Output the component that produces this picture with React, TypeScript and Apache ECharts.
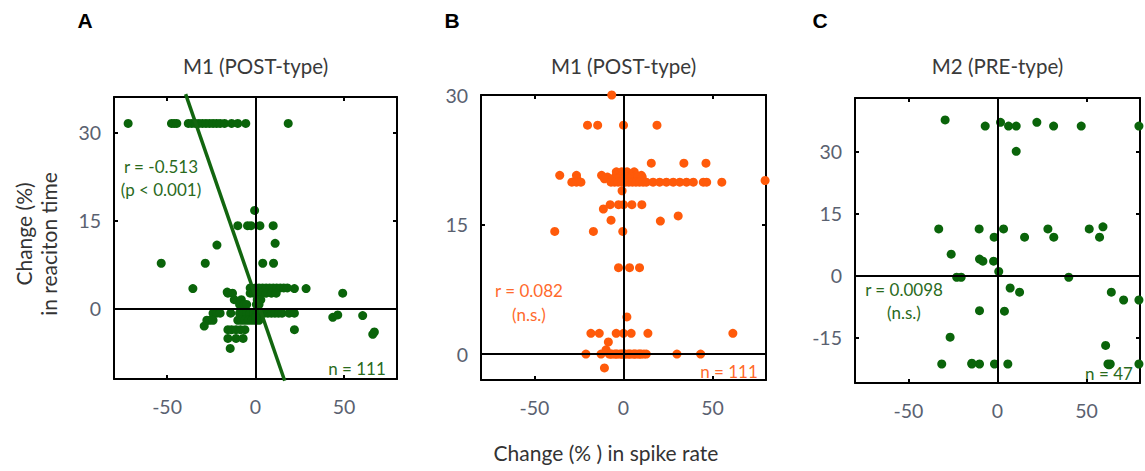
import React, { useEffect, useRef } from "react";
import * as echarts from "echarts";

// ---------- data ----------
const xTicks = [-50, 0, 50];
const yTicksA = [0, 15, 30];
const yTicksB = [0, 15, 30];
const yTicksC = [-15, 0, 15, 30];

const panelTitles = ["M1 (POST-type)", "M1 (POST-type)", "M2 (PRE-type)"];
const panelLetters = ["A", "B", "C"];

// Panel A (M1 POST-type), n = 111
const aTopRow: [number, number][] = [
  [-72, 31.5], [-47.5, 31.5], [-46, 31.5], [-44.5, 31.5], [-38, 31.5], [-36, 31.5], [-34, 31.5],
  [-32, 31.5], [-30, 31.5], [-28, 31.5], [-26, 31.5], [-24, 31.5], [-22, 31.5], [-20, 31.5],
  [-17.5, 31.5], [-13.5, 31.5], [-10, 31.5], [-5.5, 31.5], [18.5, 31.5],
];
const aMid: [number, number][] = [
  [-0.5, 16.7], [-10, 14.1], [-4.5, 14.1], [-2.5, 14.1], [2.5, 14.1], [10, 14.1],
  [-21.8, 10.8], [11.1, 11.1], [-53.3, 7.7], [-28.4, 7.7], [4.1, 7.7], [10.2, 7.7], [-35.4, 3.4],
];
const aRight: [number, number][] = [
  [49.3, 2.6], [43.7, -1.5], [46.5, -1.1], [60.6, -1.2], [66.3, -4.4], [67.2, -4.0],
  [22, -3.6], [28.6, 3.4], [22, 3.4],
];
const aCluster: [number, number][] = [
  [-3, 3.5], [0, 3.5], [2, 3.5], [4, 3.5], [6, 3.5], [8, 3.5], [10, 3.5], [12, 3.5], [14, 3.5], [16, 3.5], [18, 3.5],
  [-15.6, 2.6], [-13, 2.6], [-3, 2.6], [-1, 2.6], [1, 2.6], [3, 2.6], [6, 2.6], [9, 2.6], [11.7, 2.6],
  [-12, 1.5], [-8, 1.5], [1, 1.5], [3, 1.5],
  [-9, 0.7], [-6.5, 0.7], [-5, 0.7], [0.5, 0.7], [2, 0.7],
  [-24, -0.8], [-22, -0.8], [-20, -0.8], [-14, -0.8], [-9, -0.8], [-7, -0.8], [-5, -0.8], [-3, -0.8],
  [-1, -0.8], [1, -0.8], [3, -0.8], [5, -0.8], [7, -0.8], [9, -0.8], [11, -0.8], [13, -0.8], [15, -0.8],
  [19, -0.8], [22, -0.8],
  [-27.5, -2], [-26, -2], [-24, -2], [-10, -2], [-8, -2], [-6, -2], [-4, -2], [-2, -2], [0, -2], [2, -2],
  [-29, -3], [-15.6, -3.6], [-13.5, -3.6], [-11, -3.6], [-8.5, -3.6], [-6, -3.6],
  [-15.6, -5.1], [-11, -5.1], [-7, -5.1], [-14.3, -6.8], [-16, 2.8], [0, -1.5],
];
const aFitLine: [number, number][] = [[-39.5, 36.5], [16.5, -12.3]];

// Panel B (M1 POST-type), n = 111
const bUpper: [number, number][] = [
  [-6.6, 30], [-20.2, 26.5], [-14.5, 26.5], [0, 26.5], [18.8, 26.5],
  [15.6, 22.1], [33.9, 22.1], [46.3, 22.1],
  [-4, 21.1], [-1, 21.1], [2, 21.1], [6, 21.1],
  [-35.8, 20.7], [-26.4, 20.7], [-12.3, 20.7], [-4.1, 20.7], [-1.3, 20.7], [1.5, 20.7], [4.4, 20.7], [7.2, 20.7], [10, 20.7],
  [-9, 20.5], [-2, 20.5], [2, 20.5], [4.5, 20.5], [8, 20.5], [10.5, 20.5],
  [-26.2, 20.3], [-10.7, 20.3], [-6, 20.3], [-3, 20.3], [0, 20.3], [3, 20.3],
  [-29, 19.9], [-26.4, 19.9], [-23.9, 19.9], [-7, 19.9], [-5, 19.9], [-3, 19.9], [-1, 19.9], [1, 19.9],
  [3, 19.9], [5, 19.9], [7, 19.9], [9, 19.9], [11, 19.9], [12.8, 19.9], [16.6, 19.9], [20.3, 19.9],
  [24.1, 19.9], [27.9, 19.9], [31.6, 19.9], [35.4, 19.9], [39.2, 19.9], [44.8, 19.9], [46.7, 19.9],
  [55.2, 19.9], [79.5, 20.1],
  [-0.8, 18.9], [-7.5, 17.3], [-2.8, 17.3], [0, 17.3], [4.7, 17.3], [10.3, 17.3], [-11.3, 16.8],
  [30.7, 16.0], [-7, 15.5], [20.7, 15.4], [-38.6, 14.2], [-16.9, 14.2], [-0.4, 14.2],
  [-2.8, 10], [3.4, 10], [9, 10],
];
const bLower: [number, number][] = [
  [1.9, 4.3], [-18.3, 2.4], [-13.6, 2.4], [-4.1, 2.4], [0, 2.4], [4.3, 2.4], [13.7, 2.4], [61.4, 2.4],
  [-8.5, 1.4], [-9.8, 0.5],
  [-21.1, 0], [-12.6, 0], [-8, 0], [-7.2, 0], [-6.5, 0], [-5, 0], [-4.2, 0], [-3.5, 0], [-2, 0], [-1.2, 0],
  [-0.5, 0], [0.5, 0], [1, 0], [2.5, 0], [3.2, 0], [4, 0], [5.5, 0], [6.2, 0], [7, 0], [8.5, 0], [9.2, 0],
  [10, 0], [11.5, 0], [12.8, 0], [30, 0], [43.3, 0],
  [-10.7, -1.6],
];

// Panel C (M2 PRE-type), n = 47
const cPoints: [number, number][] = [
  [-29.4, 37.7], [-6.9, 36.2], [1.7, 37.1], [6.2, 36.2], [10.5, 36.2], [22.1, 37.1], [31.5, 36.2],
  [47, 36.2], [79.4, 36.2], [10.5, 30.1],
  [-33, 11.3], [-10.3, 11.3], [3.4, 11.3], [28.3, 11.3], [51.5, 11.3], [59.2, 11.8],
  [-1.9, 9.3], [15.2, 9.3], [31.6, 9.3], [57.3, 9.3],
  [-26, 5.2], [-10.1, 4.0], [-8.2, 3.5], [-2.2, 3.5], [0.7, 1.0],
  [-22.9, -0.4], [-20.4, -0.4], [40, -0.4],
  [7.1, -3.0], [12.4, -4.0], [63.9, -4.0], [70.8, -5.9], [79.4, -5.9],
  [-10.1, -8.5], [3.9, -8.6], [-26.6, -14.9], [60.7, -16.9],
  [-31.3, -21.4], [-14.4, -21.4], [-10.1, -21.4], [-1.7, -21.4], [5.8, -21.4], [62, -21.4],
  [63.3, -21.4], [79.4, -21.4], [-14.4, -21.2], [62.6, -21.6],
];

const annotations = [
  { lines: ["r = -0.513", "(p < 0.001)"], n: "n = 111" },
  { lines: ["r = 0.082", "(n.s.)"], n: "n = 111" },
  { lines: ["r = 0.0098", "(n.s.)"], n: "n = 47" },
];

// ---------- styles / layout ----------
const FONT = "Lato, 'Open Sans', sans-serif";
const GREEN = "#0a640a";
const ORANGE = "#ff5a0a";
const GREEN_TXT = "#2a6a1c";
const ORANGE_TXT = "#ff6a2c";
const TICK_TXT = "#5a6170";

const grids = [
  { left: 114, top: 97, width: 283, height: 282, yMin: -12, yMax: 36, yTicks: yTicksA },
  { left: 481, top: 95, width: 285, height: 285, yMin: -3, yMax: 30, yTicks: yTicksB },
  { left: 855, top: 98, width: 285, height: 285, yMin: -26, yMax: 43, yTicks: yTicksC },
];

function xAxisCfg(gi: number, position: "bottom" | "top") {
  return {
    type: "value", gridIndex: gi, position, min: -80, max: 80,
    axisLine: { show: true, onZero: false, lineStyle: { color: "#000", width: 2 } },
    axisTick: { show: true, inside: true, length: 4, customValues: xTicks, lineStyle: { color: "#000", width: 2 } },
    axisLabel: {
      show: position === "bottom", customValues: xTicks, margin: 17,
      color: TICK_TXT, fontSize: 19.5, fontFamily: FONT,
    },
    splitLine: { show: false },
  };
}
function yAxisCfg(gi: number, position: "left" | "right") {
  const g = grids[gi];
  return {
    type: "value", gridIndex: gi, position, min: g.yMin, max: g.yMax,
    axisLine: { show: true, onZero: false, lineStyle: { color: "#000", width: 2 } },
    axisTick: { show: true, inside: true, length: 4, customValues: g.yTicks, lineStyle: { color: "#000", width: 2 } },
    axisLabel: {
      show: position === "left", customValues: g.yTicks, margin: 13,
      color: TICK_TXT, fontSize: 19.5, fontFamily: FONT,
    },
    splitLine: { show: false },
  };
}

const zeroLines = {
  silent: true, symbol: "none", label: { show: false },
  lineStyle: { color: "#000", width: 2, type: "solid" },
  emphasis: { disabled: true },
  data: [{ xAxis: 0 }, { yAxis: 0 }],
};

function scatter(gi: number, data: [number, number][], color: string, withZero: boolean) {
  return {
    type: "scatter", xAxisIndex: gi * 2, yAxisIndex: gi * 2, data,
    symbolSize: 9, clip: false, itemStyle: { color, opacity: 1 },
    ...(withZero ? { markLine: zeroLines } : {}),
  };
}

function text(x: number, y: number, t: string, opts: any = {}) {
  return {
    type: "text", x, y, silent: true,
    style: {
      text: t, fontFamily: FONT, fontSize: 17, fill: "#333",
      align: "center", verticalAlign: "middle", ...opts,
    },
  };
}

export default function App() {
  const ref = useRef<HTMLDivElement>(null);
  useEffect(() => {
    document.body.style.margin = "0";
    const chart = echarts.init(ref.current!, undefined, { renderer: "svg" });
    const centers = grids.map((g) => g.left + g.width / 2);
    const annColors = [GREEN_TXT, ORANGE_TXT, GREEN_TXT];
    const annPos = [
      { x: 161, y1: 166, y2: 189, nx: 357, ny: 368 },
      { x: 529, y1: 290, y2: 314, nx: 729, ny: 371 },
      { x: 904, y1: 289, y2: 312, nx: 1109, ny: 373 },
    ];
    const graphics: any[] = [];
    const letterX = [85, 452, 820];
    panelLetters.forEach((l, i) => {
      graphics.push(text(letterX[i], 20, l, { fontFamily: "'Liberation Sans', Arial, sans-serif", fontWeight: "bold", fontSize: 21, fill: "#000" }));
      graphics.push(text(centers[i], 66, panelTitles[i], { fontSize: 20.5, fill: "#3a3a3a" }));
      const a = annotations[i];
      graphics.push(text(annPos[i].x, annPos[i].y1, a.lines[0], { fill: annColors[i] }));
      graphics.push(text(annPos[i].x, annPos[i].y2, a.lines[1], { fill: annColors[i] }));
      graphics.push(text(annPos[i].nx, annPos[i].ny, a.n, { fill: annColors[i] }));
    });
    graphics.push({
      type: "text", x: 23, y: 234, rotation: Math.PI / 2, silent: true,
      style: { text: "Change (%)", fontFamily: FONT, fontSize: 21, fill: "#333", align: "center", verticalAlign: "middle" },
    });
    graphics.push({
      type: "text", x: 48, y: 244, rotation: Math.PI / 2, silent: true,
      style: { text: "in reaciton time", fontFamily: FONT, fontSize: 21, fill: "#333", align: "center", verticalAlign: "middle" },
    });
    graphics.push(text(606, 452, "Change (% ) in spike rate", { fontSize: 21, fill: "#333" }));

    chart.setOption({
      animation: false,
      grid: grids.map((g) => ({ left: g.left, top: g.top, width: g.width, height: g.height })),
      xAxis: [0, 1, 2].flatMap((i) => [xAxisCfg(i, "bottom"), xAxisCfg(i, "top")]),
      yAxis: [0, 1, 2].flatMap((i) => [yAxisCfg(i, "left"), yAxisCfg(i, "right")]),
      series: [
        scatter(0, [...aTopRow, ...aMid, ...aRight, ...aCluster], GREEN, true),
        {
          type: "line", xAxisIndex: 0, yAxisIndex: 0, data: aFitLine, clip: false,
          symbol: "none", lineStyle: { color: "#12660f", width: 3.5 }, silent: true,
        },
        scatter(1, [...bUpper, ...bLower], ORANGE, true),
        scatter(2, cPoints, GREEN, true),
      ],
      graphic: graphics,
    });
    return () => chart.dispose();
  }, []);
  return <div ref={ref} style={{ width: 1145, height: 471 }} />;
}
